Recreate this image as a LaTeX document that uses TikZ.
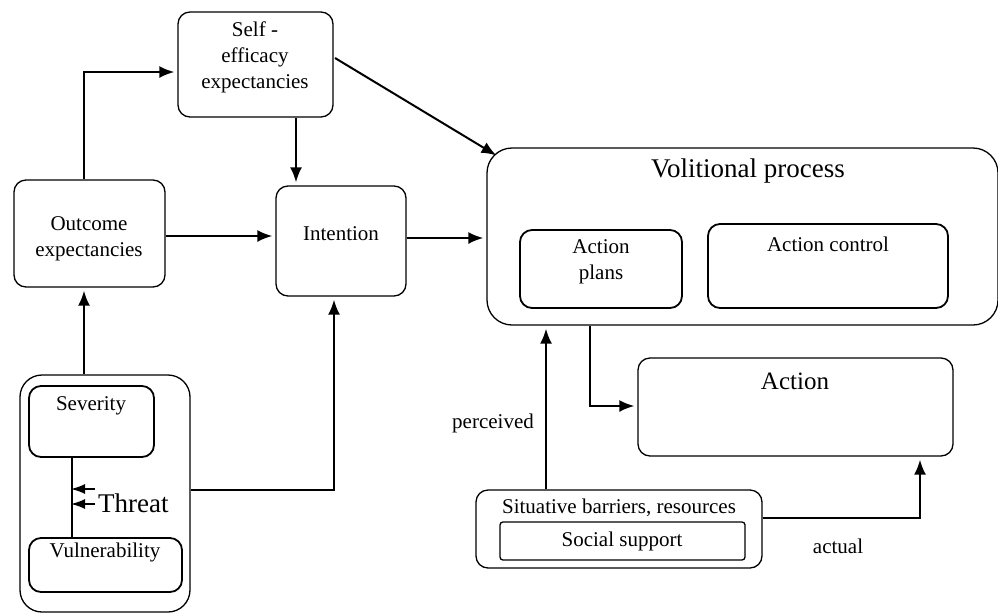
\documentclass[tikz,border=0pt]{standalone}
\usepackage{fontspec}
\setmainfont{Liberation Serif}
\usetikzlibrary{arrows.meta}
\begin{document}
\begin{tikzpicture}[x=1pt,y=-1pt,
  box/.style={draw,rounded corners=12pt,line width=1.3pt,inner sep=0pt},
  lbl/.style={font=\fontsize{21}{26}\selectfont,align=center,inner sep=0pt},
  arr/.style={-{Latex[length=15pt,width=12pt]},line width=2pt,shorten >=3pt},
  ln/.style={line width=1.3pt}]
\useasboundingbox (0,0) rectangle (998,614);
% boxes
\node[box,minimum width=155pt,minimum height=105pt] (se) at (255.5,64.5) {};
\node[lbl] at (255,57) {Self -\\efficacy\\expectancies};
\node[box,minimum width=151pt,minimum height=107pt] (oe) at (89.5,233.5) {};
\node[lbl] at (89,239) {Outcome\\expectancies};
\node[box,minimum width=130pt,minimum height=110pt] (in) at (341,241) {};
\node[lbl] at (341,234) {Intention};
\node[box,rounded corners=25pt,minimum width=511pt,minimum height=177pt] (vp) at (742.5,236.5) {};
\node[lbl,font=\fontsize{27}{32}\selectfont] at (748,171) {Volitional process};
\node[box,line width=1.8pt,minimum width=162pt,minimum height=78pt] (ap) at (601,269) {};
\node[lbl] at (601,262) {Action\\plans};
\node[box,line width=1.8pt,minimum width=240pt,minimum height=84pt] (ac) at (828,266) {};
\node[lbl] at (828,244) {Action control};
\node[box,minimum width=315pt,minimum height=98pt] (act) at (795.5,407) {};
\node[lbl,font=\fontsize{25}{30}\selectfont] at (795,381) {Action};
\node[box,rounded corners=22pt,minimum width=170pt,minimum height=237pt] (th) at (105,493.5) {};
\node[box,line width=1.8pt,minimum width=125pt,minimum height=71pt] (sev) at (91.5,421.5) {};
\node[lbl] at (91,406) {Severity};
\node[box,line width=1.8pt,minimum width=153pt,minimum height=54pt] (vul) at (105.5,565) {};
\node[lbl] at (105,552) {Vulnerability};
\node[lbl,font=\fontsize{27}{32}\selectfont,anchor=west] (thl) at (98,503) {Threat};
\coordinate (sevb) at (72,457);
\coordinate (vult) at (72,538);
\draw[ln] (sevb) -- (vult);
\coordinate (t1) at (71,489);
\coordinate (t2) at (71,504);
\draw[-{Latex[length=14pt,width=10pt]},line width=1.6pt] (95,489) -- (t1);
\draw[-{Latex[length=14pt,width=10pt]},line width=1.6pt] (95,504) -- (t2);
\node[box,minimum width=286pt,minimum height=78pt] (sit) at (619,529) {};
\node[lbl] at (619,508) {Situative barriers, resources};
\node[draw,line width=1.3pt,rounded corners=3pt,minimum width=245pt,minimum height=38pt,inner sep=0pt] (soc) at (622.5,541) {};
\node[lbl] at (622,541) {Social support};
% arrows
\draw[arr] (oe.north -| 84,0) |- (se.west |- 0,72);
\draw[arr] (se.south -| 296,0) -- (in.north -| 296,0);
\coordinate (vpin) at (499,157);
\draw[arr] (335,58) -- (vpin);
\draw[arr] (oe.east |- 0,236) -- (in.west |- 0,236);
\draw[arr] (in.east |- 0,238) -- (vp.west |- 0,238);
\draw[arr] (th.north -| 84,0) -- (oe.south -| 84,0);
\draw[arr] (th.east |- 0,490) -| (in.south -| 334,0);
\draw[arr] (sit.north -| 546,0) -- (vp.south -| 546,0);
\node[lbl] (perc) at (493,423) {perceived};
\draw[arr] (vp.south -| 590,0) |- (act.west |- 0,406);
\draw[arr] (sit.east |- 0,518) -| (act.south -| 920,0);
\node[lbl] (actl) at (838,546) {actual};
\end{tikzpicture}
\end{document}
